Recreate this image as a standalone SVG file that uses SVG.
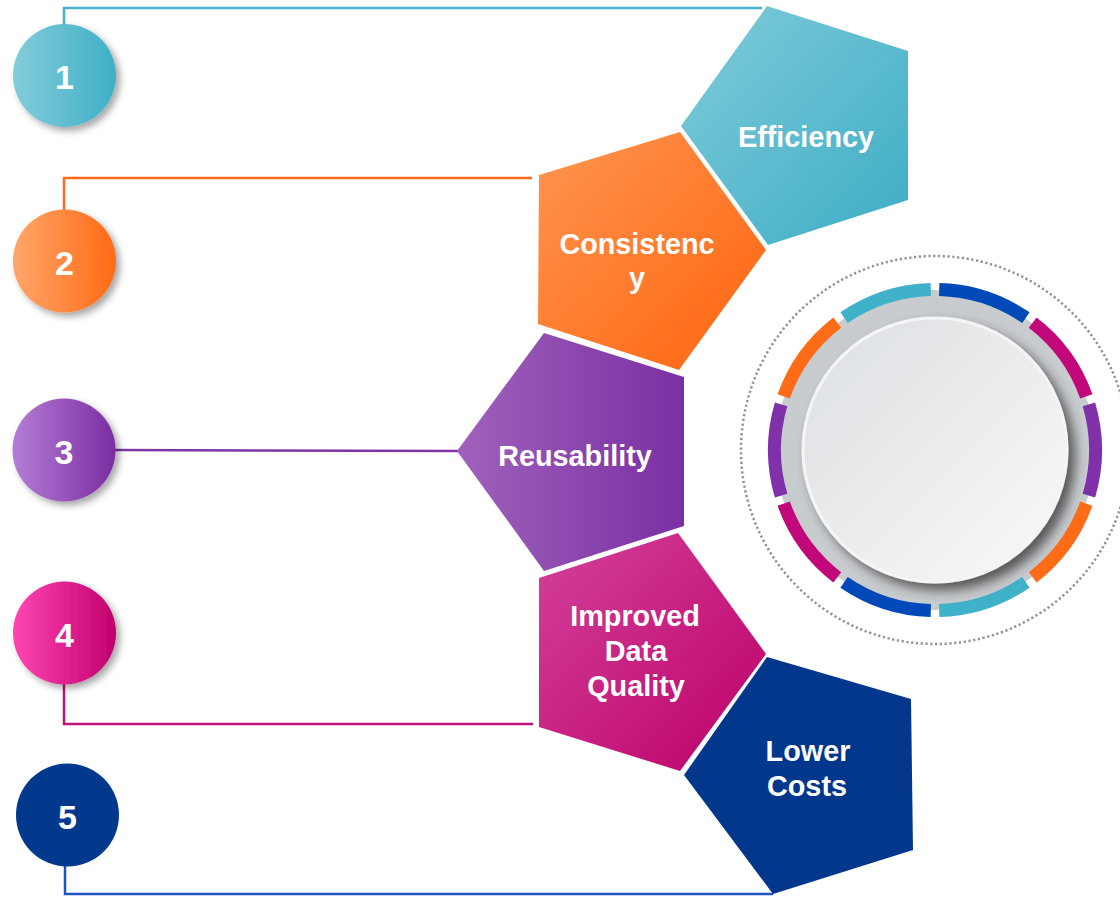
<svg xmlns="http://www.w3.org/2000/svg" width="1120" height="897" viewBox="0 0 1120 897">
<defs>
<linearGradient id="c1" x1="0" y1="0" x2="1" y2="0"><stop offset="0" stop-color="#84ccd9"/><stop offset="1" stop-color="#3eafc7"/></linearGradient>
<linearGradient id="c2" x1="0" y1="0" x2="1" y2="0"><stop offset="0" stop-color="#ffa66b"/><stop offset="1" stop-color="#ff6a14"/></linearGradient>
<linearGradient id="c3" x1="0" y1="0" x2="1" y2="0"><stop offset="0" stop-color="#b47dd5"/><stop offset="1" stop-color="#7a2da2"/></linearGradient>
<linearGradient id="c4" x1="0" y1="0" x2="1" y2="0"><stop offset="0" stop-color="#ff46b3"/><stop offset="1" stop-color="#c0006c"/></linearGradient>
<linearGradient id="p1" x1="0" y1="0" x2="1" y2="1"><stop offset="0" stop-color="#80cbd9"/><stop offset="1" stop-color="#3dadc6"/></linearGradient>
<linearGradient id="p2" x1="0" y1="0" x2="1" y2="1"><stop offset="0" stop-color="#ff9550"/><stop offset="1" stop-color="#ff640e"/></linearGradient>
<linearGradient id="p3" x1="0" y1="0" x2="1" y2="0"><stop offset="0" stop-color="#9f62bb"/><stop offset="1" stop-color="#7b2fa3"/></linearGradient>
<linearGradient id="p4" x1="0" y1="0" x2="1" y2="1"><stop offset="0" stop-color="#d2419a"/><stop offset="1" stop-color="#bd0068"/></linearGradient>
<linearGradient id="disc" x1="0" y1="0" x2="1" y2="1"><stop offset="0" stop-color="#dcdfe2"/><stop offset="1" stop-color="#f8f9f9"/></linearGradient>
<filter id="sh" x="-30%" y="-30%" width="170%" height="170%"><feDropShadow dx="4" dy="4" stdDeviation="3.5" flood-color="#000" flood-opacity="0.35"/></filter>
<filter id="shd" x="-30%" y="-30%" width="170%" height="170%"><feDropShadow dx="7" dy="7" stdDeviation="6" flood-color="#333" flood-opacity="0.75"/></filter>
<style>
.num{font-family:"Liberation Sans",Arial,sans-serif;font-weight:bold;font-size:34px;fill:#fff;text-anchor:middle}
.lbl{font-family:"Liberation Sans",Arial,sans-serif;font-weight:bold;font-size:28.8px;fill:#fff;text-anchor:middle}
.ln{fill:none;stroke-width:2.5}
.seg{fill:none;stroke-width:13}
</style>
</defs>
<rect width="1120" height="897" fill="#fff"/>

<g id="connectors">
<polyline class="ln" stroke="#45b3c8" points="64,26 64,8 762,8"/>
<polyline class="ln" stroke="#ff6a1a" points="64,211 64,178 532,178"/>
<polyline class="ln" stroke="#7f35a5" points="114,450 458,451"/>
<polyline class="ln" stroke="#c0127a" points="64,682 64,724 533,724"/>
<polyline class="ln" stroke="#1f56c0" points="65,864 65,894 773,894"/>
</g>

<g id="ring">
<circle cx="935" cy="450" r="194" fill="none" stroke="#8a939a" stroke-width="2.5" stroke-dasharray="2.2 2.6"/>
<circle cx="935" cy="450" r="160" fill="#c9cccf"/>
<path class="seg" stroke="#0049b8" d="M939.2 289.55A160.5 160.5 0 0 1 1025.91 317.73"/>
<path class="seg" stroke="#c2077a" d="M1032.71 322.67A160.5 160.5 0 0 1 1086.29 396.42"/>
<path class="seg" stroke="#8030a8" d="M1088.89 404.41A160.5 160.5 0 0 1 1088.89 495.59"/>
<path class="seg" stroke="#ff6c17" d="M1086.29 503.58A160.5 160.5 0 0 1 1032.71 577.33"/>
<path class="seg" stroke="#3fb1c8" d="M1025.91 582.27A160.5 160.5 0 0 1 939.2 610.45"/>
<path class="seg" stroke="#0049b8" d="M930.8 610.45A160.5 160.5 0 0 1 844.09 582.27"/>
<path class="seg" stroke="#c2077a" d="M837.29 577.33A160.5 160.5 0 0 1 783.71 503.58"/>
<path class="seg" stroke="#8030a8" d="M781.11 495.59A160.5 160.5 0 0 1 781.11 404.41"/>
<path class="seg" stroke="#ff6c17" d="M783.71 396.42A160.5 160.5 0 0 1 837.29 322.67"/>
<path class="seg" stroke="#3fb1c8" d="M844.09 317.73A160.5 160.5 0 0 1 930.8 289.55"/>
<circle cx="935" cy="450" r="132" fill="url(#disc)" stroke="#f4f5f5" stroke-width="3" filter="url(#shd)"/>
</g>

<g id="node1">
<circle cx="64.5" cy="75.5" r="51.5" fill="url(#c1)" filter="url(#sh)"/>
<text class="num" x="64.5" y="88.5">1</text>
</g>
<g id="node2">
<circle cx="64.5" cy="261" r="51.5" fill="url(#c2)" filter="url(#sh)"/>
<text class="num" x="64.5" y="274.5">2</text>
</g>
<g id="node3">
<circle cx="64" cy="450" r="51.5" fill="url(#c3)" filter="url(#sh)"/>
<text class="num" x="64" y="463.5">3</text>
</g>
<g id="node4">
<circle cx="64.5" cy="633" r="51.5" fill="url(#c4)" filter="url(#sh)"/>
<text class="num" x="64.5" y="646.5">4</text>
</g>
<g id="node5">
<circle cx="67.5" cy="815" r="51.5" fill="#02398c"/>
<text class="num" x="67.5" y="829">5</text>
</g>

<g id="efficiency">
<polygon points="767,6 908,51 908,200 768,245 681,126" fill="url(#p1)"/>
<text class="lbl" x="806" y="147">Efficiency</text>
</g>
<g id="consistency">
<polygon points="539,175 680,132 766,250 679,370 538,324" fill="url(#p2)"/>
<text class="lbl" x="637" y="254">Consistenc</text>
<text class="lbl" x="637" y="288">y</text>
</g>
<g id="reusability">
<polygon points="544,333 684,377 684,526 544,571 457,451" fill="url(#p3)"/>
<text class="lbl" x="575" y="466">Reusability</text>
</g>
<g id="quality">
<polygon points="539,578 678,533 766,654 680,771 539,727" fill="url(#p4)"/>
<text class="lbl" x="635" y="626">Improved</text>
<text class="lbl" x="636" y="661">Data</text>
<text class="lbl" x="636" y="696">Quality</text>
</g>
<g id="costs">
<polygon points="767,657 911,699 913,850 773,894 684,775" fill="#03378c"/>
<text class="lbl" x="808" y="761">Lower</text>
<text class="lbl" x="807" y="796">Costs</text>
</g>
</svg>
